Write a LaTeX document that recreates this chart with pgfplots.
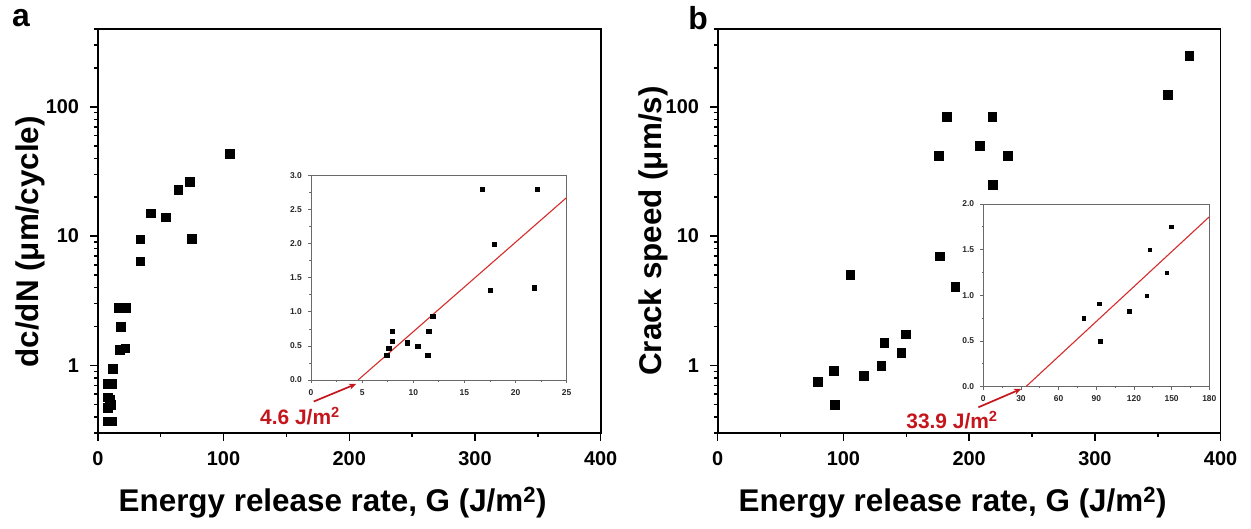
\documentclass[border=0pt]{standalone}
\usepackage{fontspec}
\setmainfont{Liberation Sans}
\usepackage{pgfplots}
\usepackage{pgfplotstable}
\pgfplotsset{compat=1.18}
\usetikzlibrary{arrows.meta}
\definecolor{annred}{RGB}{196,22,28}
\definecolor{fitred}{RGB}{214,44,44}
\definecolor{insetgray}{RGB}{105,105,105}

% panel a: low-G points (also shown in inset)
\pgfplotstableread{
G v
7.4 0.37
11.4 0.37
7.6 0.47
10.4 0.50
9.4 0.55
7.9 0.57
7.9 0.72
11.5 0.72
11.9 0.94
17.5 1.32
21.8 1.36
17.9 2.0
16.7 2.8
22.1 2.8
}\insetA
% panel a: high-G points
\pgfplotstableread{
G v
33.6 6.4
33.6 9.5
41.9 15.1
53.7 14.0
63.9 22.9
73.0 26.3
74.6 9.6
104.7 43.6
}\highA
% panel b: low points (also in inset)
\pgfplotstableread{
G v
79.6 0.75
92.1 0.91
92.9 0.50
116.0 0.83
130.0 1.00
132.2 1.50
146.0 1.25
149.5 1.75
}\insetB
% panel b: high points
\pgfplotstableread{
G v
105.2 5.05
176.5 7.0
188.9 4.05
175.7 41.8
182.0 83.8
208.5 50
218.3 83.8
218.8 25
230.8 41.8
357.7 125
374.9 250
}\highB

\pgfplotsset{
  mainax/.style={
    scale only axis, width=502.9bp, height=404bp,
    anchor=south west,
    xmin=0, xmax=400, ymin=0.3, ymax=400,
    axis line style={line width=1.6bp, black},
    xtick={0,100,200,300,400}, xticklabels={0,100,200,300,400},
    minor xtick={50,150,250,350},
    ytick={1,10,100}, yticklabels={1,10,100},
    minor ytick={0.3,0.4,0.5,0.6,0.7,0.8,0.9,2,3,4,5,6,7,8,9,20,30,40,50,60,70,80,90,200,300,400},
    tick align=outside, tick pos=left,
    major tick length=7.7bp, minor tick length=3.8bp,
    every tick/.style={line width=1.5bp, black},
    tick label style={font=\fontsize{20}{22}\selectfont\bfseries},
    yticklabel style={xshift=-7.5bp},
    xticklabel style={yshift=-7.5bp},
    label style={font=\fontsize{31.5}{34}\selectfont\bfseries},
    xlabel style={at={(axis description cs:0.467,-0.173)}, anchor=center},
    clip=false,
  },
  insetax/.style={
    scale only axis, anchor=south west,
    axis background/.style={fill=white},
    axis line style={line width=0.9bp, insetgray},
    tick align=outside, tick pos=left,
    major tick length=3.2bp, minor tick length=1.8bp,
    every tick/.style={line width=0.8bp, insetgray},
    tick label style={font=\fontsize{8.5}{9}\selectfont\bfseries, color=black!85},
    yticklabel style={xshift=-2.5bp},
    xticklabel style={yshift=-2.5bp},
  },
  mainmark/.style={only marks, mark=square*, mark size=4.3bp, mark options={draw=black, fill=black, line width=0.2bp}},
}

\begin{document}
\begin{tikzpicture}
\path[use as bounding box] (0,0) rectangle (1251bp,529bp);

% ---------------- panel a ----------------
\begin{semilogyaxis}[mainax, at={(97.8bp,96bp)},
  xlabel={Energy release rate, G (J/m\textsuperscript{2})},
  ylabel={dc/dN (μm/cycle)},
  ylabel style={at={(axis description cs:-0.135,0.473)}, anchor=center},
]
\addplot[mainmark] table[x=G, y=v] {\insetA};
\addplot[mainmark] table[x=G, y=v] {\highA};
\end{semilogyaxis}

\begin{axis}[insetax, at={(311bp,149bp)}, width=255.7bp, height=204.3bp,
  xmin=0, xmax=25, ymin=0, ymax=3,
  xtick={0,5,10,15,20,25}, xticklabels={0,5,10,15,20,25},
  minor xtick={2.5,7.5,12.5,17.5,22.5},
  ytick={0,0.5,1,1.5,2,2.5,3}, yticklabels={0.0,0.5,1.0,1.5,2.0,2.5,3.0},
  minor ytick={0.25,0.75,1.25,1.75,2.25,2.75},
]
\addplot[only marks, mark=square*, mark size=2.2bp, mark options={draw=black, fill=black, line width=0.1bp}] table[x=G, y=v] {\insetA};
\addplot[fitred, line width=1.1bp] coordinates {(4.6,0) (25,2.68)};
\end{axis}

\draw[annred, line width=1.7bp, -{Stealth[length=7bp,width=6bp]}] (313.8bp,127.5bp) -- (356bp,145bp);
\node[annred, font=\fontsize{21}{23}\selectfont\bfseries, anchor=center] at (300bp,113bp) {4.6 J/m\textsuperscript{2}};

\node[font=\fontsize{32}{34}\selectfont\bfseries, anchor=center] at (21bp,511bp) {a};

% ---------------- panel b ----------------
\begin{semilogyaxis}[mainax, at={(717.7bp,96bp)},
  xlabel={Energy release rate, G (J/m\textsuperscript{2})},
  ylabel={Crack speed (μm/s)},
  ylabel style={at={(axis description cs:-0.128,0.5)}, anchor=center},
]
\addplot[mainmark] table[x=G, y=v] {\insetB};
\addplot[mainmark] table[x=G, y=v] {\highB};
\end{semilogyaxis}

\begin{axis}[insetax, at={(983.3bp,142.3bp)}, width=226bp, height=182.7bp,
  xmin=0, xmax=180, ymin=0, ymax=2,
  xtick={0,30,60,90,120,150,180}, xticklabels={0,30,60,90,120,150,180},
  minor xtick={15,45,75,105,135,165},
  ytick={0,0.5,1,1.5,2}, yticklabels={0.0,0.5,1.0,1.5,2.0},
  minor ytick={0.25,0.75,1.25,1.75},
]
\addplot[only marks, mark=square*, mark size=1.7bp, mark options={draw=black, fill=black, line width=0.1bp}] table[x=G, y=v] {\insetB};
\addplot[fitred, line width=1.1bp] coordinates {(33.9,0) (180,1.86)};
\end{axis}

\draw[annred, line width=1.7bp, -{Stealth[length=7bp,width=6bp]}] (978.3bp,121.7bp) -- (1021bp,140bp);
\node[annred, font=\fontsize{21}{23}\selectfont\bfseries, anchor=center] at (952bp,109bp) {33.9 J/m\textsuperscript{2}};

\node[font=\fontsize{32}{34}\selectfont\bfseries, anchor=center] at (698bp,511bp) {b};
\end{tikzpicture}
\end{document}
